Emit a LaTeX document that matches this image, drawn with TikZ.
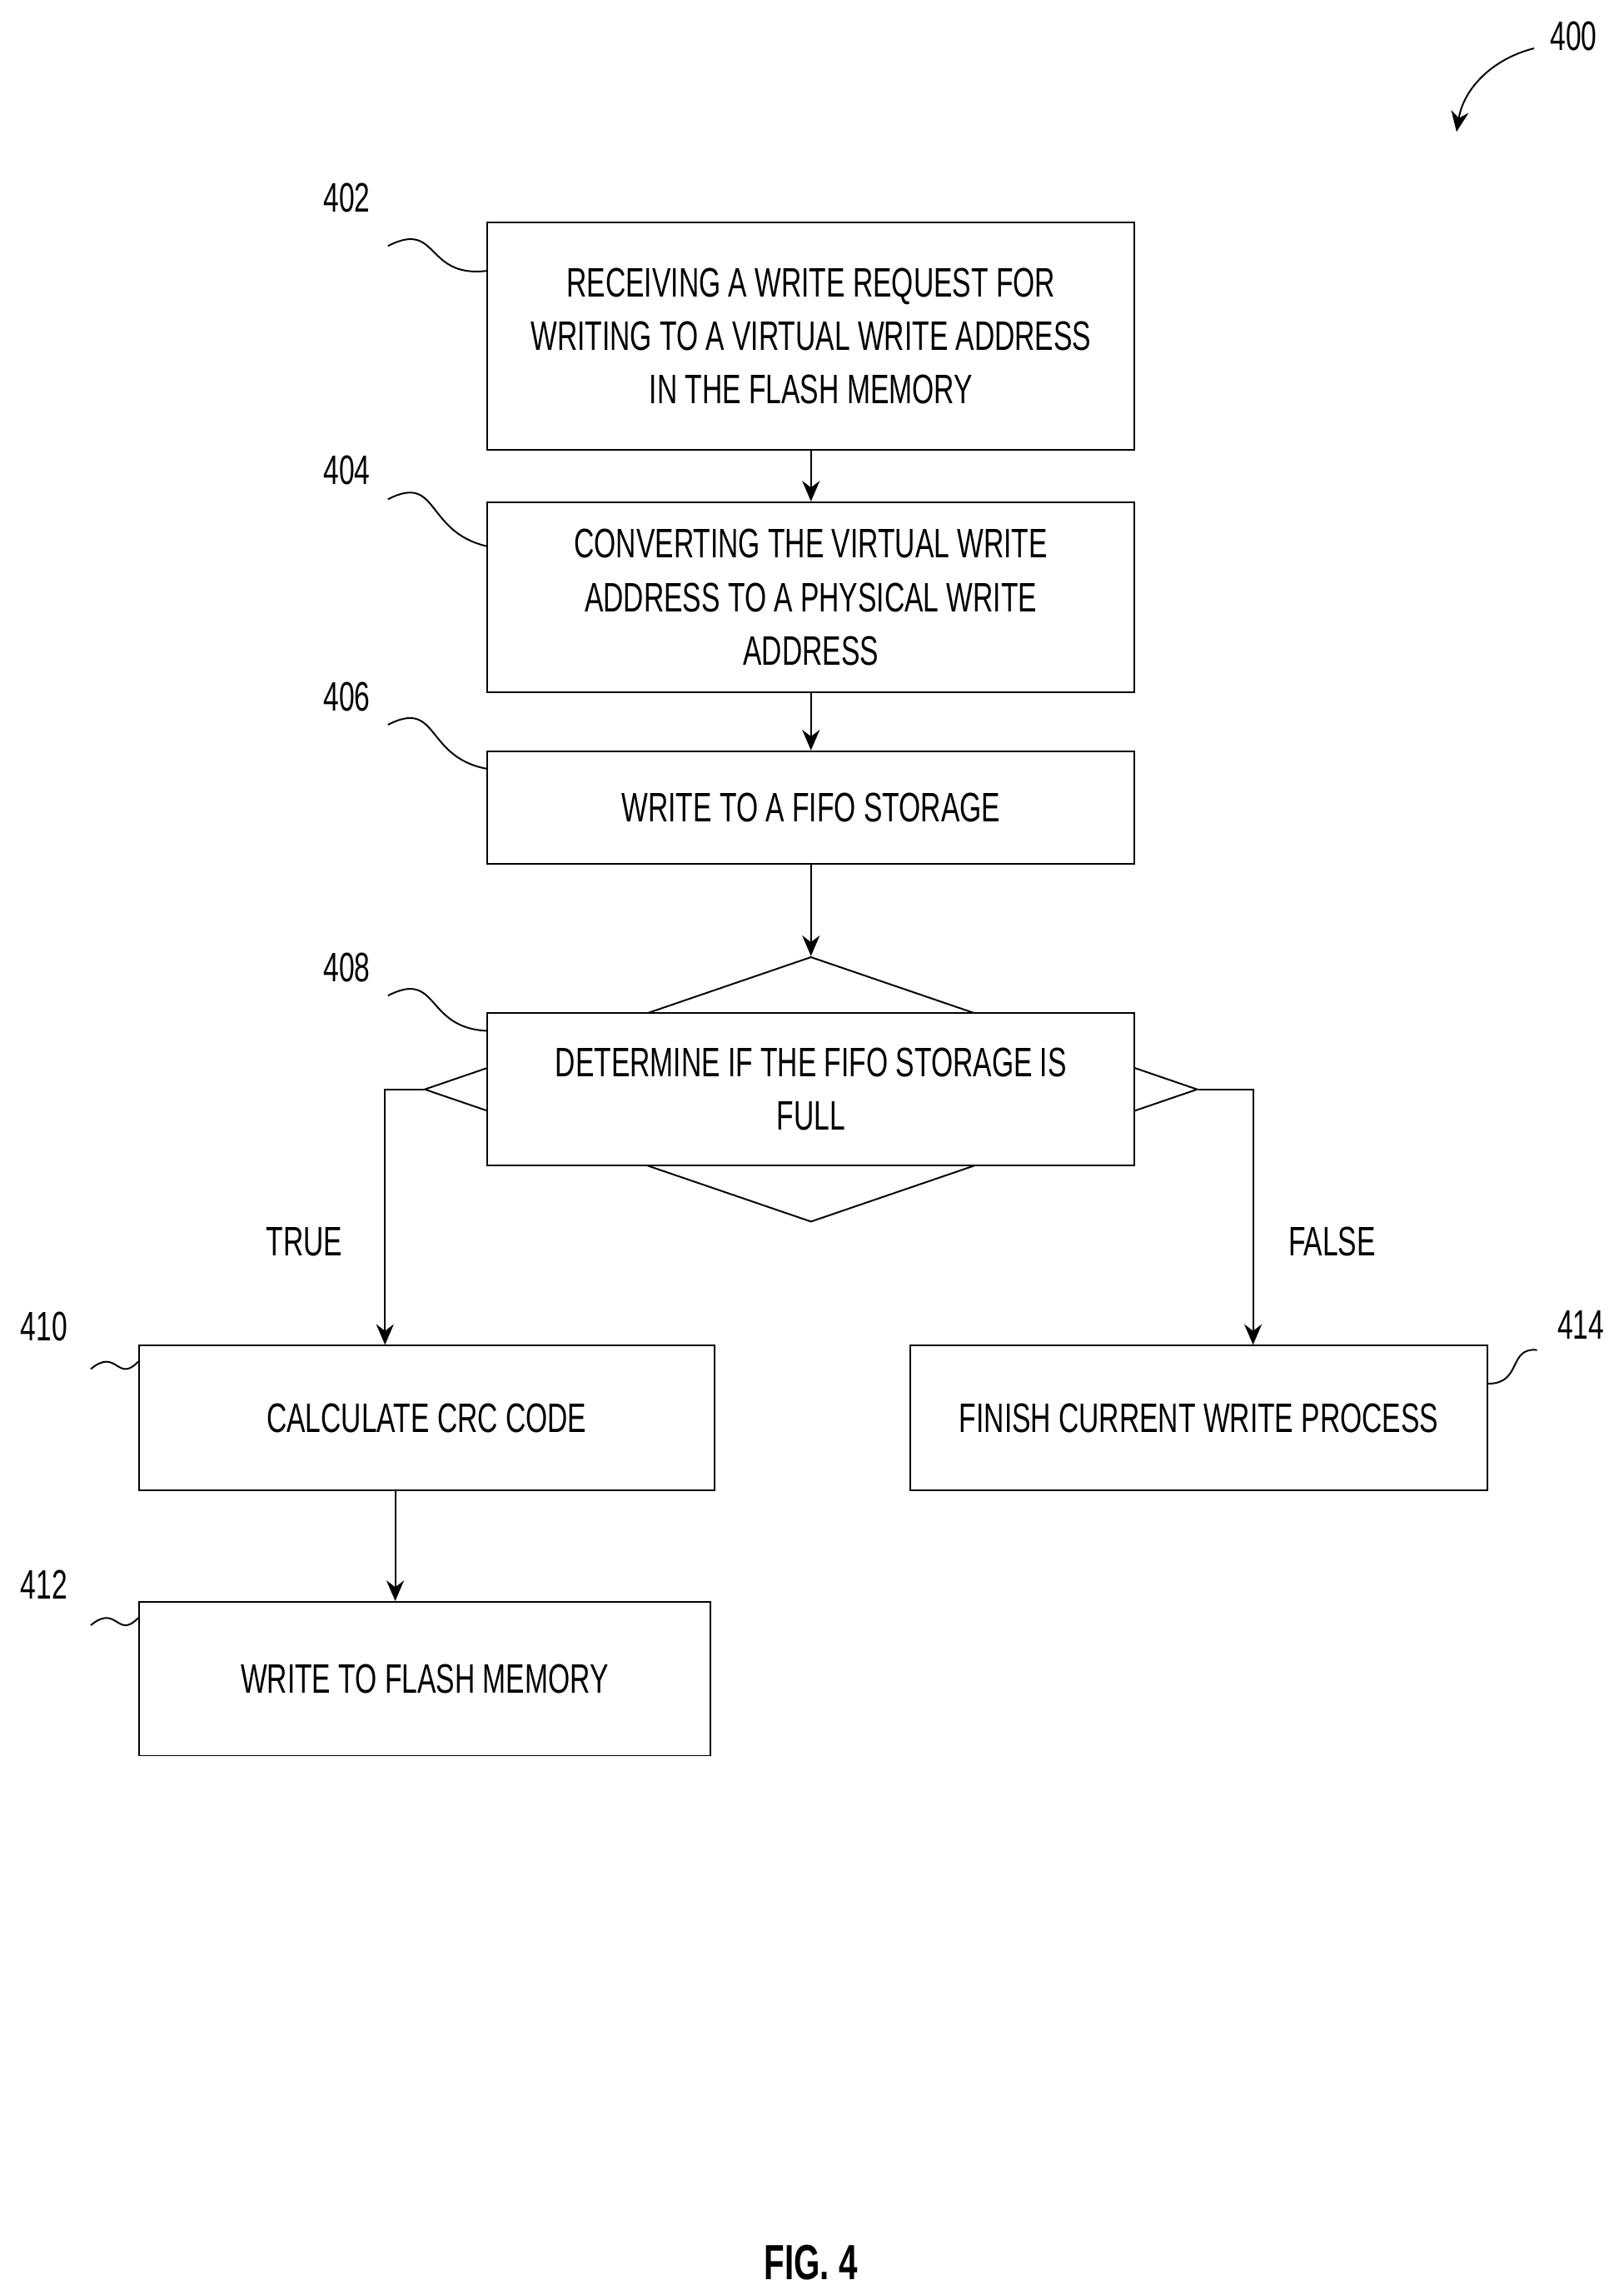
\documentclass[tikz,border=0pt]{standalone}
\usepackage{fontspec}
\setmainfont{Liberation Sans}[FakeStretch=0.68]
\usetikzlibrary{shapes.geometric,arrows.meta,calc}

\begin{document}
\begin{tikzpicture}
    [x=0.025cm, y=-0.025cm,
    every node/.style={font=\fontsize{20pt}{26pt}\selectfont},
    box/.style={draw, thick, fill=white, align=center, inner sep=0pt, minimum width=11.05cm},
    flow/.style={thick, -{Stealth[length=3.5mm,width=3mm]}},
    refline/.style={thick}]

    \useasboundingbox (0,0) rectangle (1109,1564);

    % steps
    \node [box, minimum height=3.875cm] (s402) at (554,229.5) {RECEIVING A WRITE REQUEST FOR\\WRITING TO A VIRTUAL WRITE ADDRESS\\IN THE FLASH MEMORY};
    \node [box, minimum height=3.25cm] (s404) at (554,408) {CONVERTING THE VIRTUAL WRITE\\ADDRESS TO A PHYSICAL WRITE\\ADDRESS};
    \node [box, minimum height=1.925cm] (s406) at (554,551.5) {WRITE TO A FIFO STORAGE};
    \node [draw, thick, diamond, minimum width=13.2cm, minimum height=4.525cm, inner sep=0pt] (dia) at (554,744) {};
    \node [box, minimum height=2.6cm] (s408) at (554,744) {DETERMINE IF THE FIFO STORAGE IS\\FULL};
    \node [box, minimum width=9.825cm, minimum height=2.475cm] (s410) at (291.5,968.5) {CALCULATE CRC CODE};
    \node [box, minimum width=9.75cm, minimum height=2.625cm] (s412) at (290,1146.5) {WRITE TO FLASH MEMORY};
    \node [box, minimum width=9.85cm, minimum height=2.475cm] (s414) at (819,968.5) {FINISH CURRENT WRITE PROCESS};

    % connectors
    \draw [flow] (s402) -- (s404);
    \draw [flow] (s404) -- (s406);
    \draw [flow] (s406) -- (dia.north);
    \draw [flow] (dia.west) -| ($(s410.north)+(-28.5,0)$);
    \draw [flow] (dia.east) -| ($(s414.north)+(37,0)$);
    \draw [flow] ($(s410.south)+(-21.5,0)$) -- ($(s412.north)+(-20,0)$);
    \node (true) at (208,848) {TRUE};
    \node (false) at (910,848) {FALSE};

    % reference numerals
    \node (r400) at (1075,25) {400};
    \node (r402) at (237,135) {402};
    \node (r404) at (237,321) {404};
    \node (r406) at (237,476) {406};
    \node (r408) at (237,661) {408};
    \node (r410) at (30,906) {410};
    \node (r412) at (30,1082) {412};
    \node (r414) at (1080,905) {414};
    \draw [refline] (265,168) .. controls (300,150) and (290,190) .. (s402.west |- 0,185);
    \draw [refline] (265,341) .. controls (300,323) and (290,363) .. (s404.west |- 0,373);
    \draw [refline] (265,495) .. controls (300,477) and (290,517) .. (s406.west |- 0,525);
    \draw [refline] (265,680) .. controls (300,662) and (290,702) .. (s408.west |- 0,704);
    \draw [refline] (62,935) .. controls (80,920) and (80,945) .. (s410.west |- 0,930);
    \draw [refline] (62,1110) .. controls (80,1095) and (80,1120) .. (s412.west |- 0,1105);
    \draw [refline] (s414.east |- 0,945) .. controls (1040,945) and (1030,920) .. (1050,922);
    \draw [flow] (1048,33) .. controls (1020,40) and (1000,60) .. (995,90);

    \node [font=\bfseries\fontsize{24pt}{28pt}\selectfont] (fig) at (554,1545) {FIG. 4};
\end{tikzpicture}
\end{document}
